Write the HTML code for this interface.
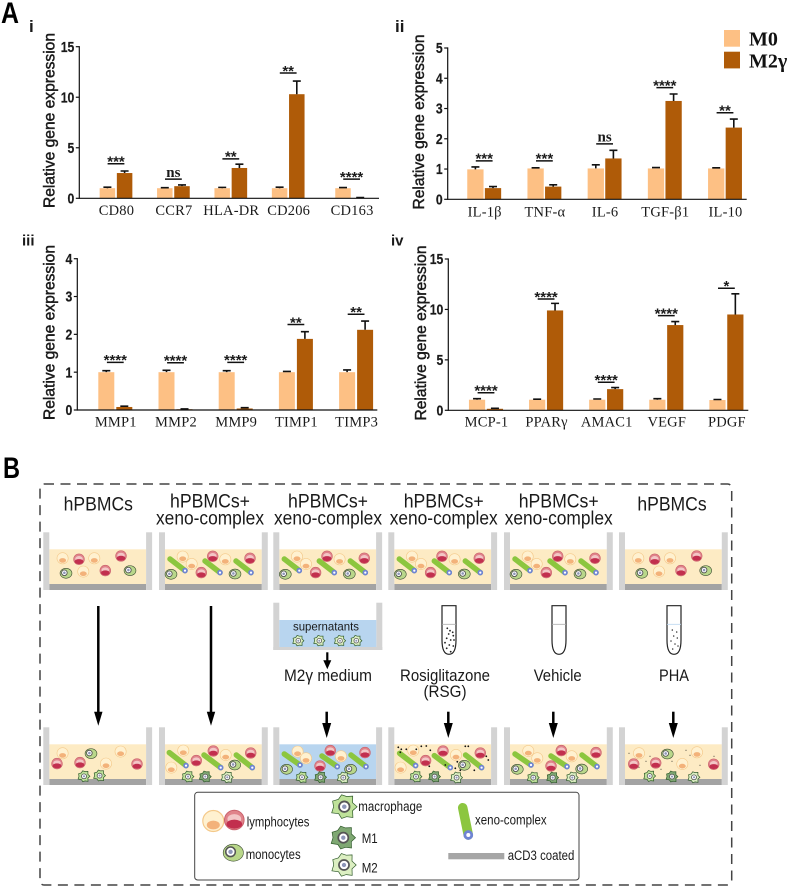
<!DOCTYPE html>
<html lang="en">
<head>
<meta charset="utf-8">
<title>Macrophage gene expression and experimental design</title>
<style>
  html, body { margin: 0; padding: 0; background: #fff; }
  svg { display: block; }
  text { font-family: "Liberation Sans", sans-serif; fill: #1a1a1a; }
  .serif { font-family: "Liberation Serif", serif; }
</style>
</head>
<body>
<svg id="figure" xmlns="http://www.w3.org/2000/svg" width="789" height="888" viewBox="0 0 789 888">
  <rect width="789" height="888" fill="#ffffff"/>

  <text x="1" y="23" font-size="30" font-weight="700" textLength="18" lengthAdjust="spacingAndGlyphs" style="fill:#000">A</text>
  <text x="3" y="478" font-size="30" font-weight="700" textLength="17" lengthAdjust="spacingAndGlyphs" style="fill:#000">B</text>

  <g>
    <rect x="724" y="30" width="16" height="16.7" fill="#FDC084"/>
    <text class="serif" x="749" y="45.7" font-size="20" font-weight="700" style="fill:#111">M0</text>
    <rect x="724" y="51.7" width="16" height="16.7" fill="#AF5B08"/>
    <text class="serif" x="749" y="67.3" font-size="20" font-weight="700" style="fill:#111">M2γ</text>
  </g>

  <g id="charts"></g>

  <rect x="40" y="484" width="691.7" height="401" rx="4" fill="none" stroke="#444" stroke-width="1.5" stroke-dasharray="10 6.5"/>

  <g font-size="19" text-anchor="middle" lengthAdjust="spacingAndGlyphs">
    <text x="98.3" y="510.7" textLength="69.3" lengthAdjust="spacingAndGlyphs">hPBMCs</text>
    <text x="210" y="507.3" textLength="80" lengthAdjust="spacingAndGlyphs">hPBMCs+</text>
    <text x="210" y="524.3" textLength="108" lengthAdjust="spacingAndGlyphs">xeno-complex</text>
    <text x="328" y="507.3" textLength="80" lengthAdjust="spacingAndGlyphs">hPBMCs+</text>
    <text x="328" y="524.3" textLength="108" lengthAdjust="spacingAndGlyphs">xeno-complex</text>
    <text x="443.7" y="507.3" textLength="80" lengthAdjust="spacingAndGlyphs">hPBMCs+</text>
    <text x="443.7" y="524.3" textLength="108" lengthAdjust="spacingAndGlyphs">xeno-complex</text>
    <text x="558.7" y="507.3" textLength="80" lengthAdjust="spacingAndGlyphs">hPBMCs+</text>
    <text x="558.7" y="524.3" textLength="108" lengthAdjust="spacingAndGlyphs">xeno-complex</text>
    <text x="672" y="510.7" textLength="69.3" lengthAdjust="spacingAndGlyphs">hPBMCs</text>
  </g>

  <g id="wells"></g>

  <g font-size="16.5" text-anchor="middle">
    <text x="328" y="681" textLength="88" lengthAdjust="spacingAndGlyphs">M2γ medium</text>
    <text x="445" y="681" textLength="90" lengthAdjust="spacingAndGlyphs">Rosiglitazone</text>
    <text x="445" y="697" textLength="43" lengthAdjust="spacingAndGlyphs">(RSG)</text>
    <text x="557.7" y="681" textLength="48" lengthAdjust="spacingAndGlyphs">Vehicle</text>
    <text x="674" y="681" textLength="30" lengthAdjust="spacingAndGlyphs">PHA</text>
  </g>

  <rect x="194.7" y="792.3" width="384.3" height="87.7" rx="3" fill="#fff" stroke="#444" stroke-width="1"/>
  <g font-size="13.5">
    <text x="246.7" y="826.7" textLength="62.7" lengthAdjust="spacingAndGlyphs">lymphocytes</text>
    <text x="245.7" y="859" textLength="55" lengthAdjust="spacingAndGlyphs">monocytes</text>
    <text x="358.3" y="811" textLength="64" lengthAdjust="spacingAndGlyphs">macrophage</text>
    <text x="361.7" y="843" textLength="16" lengthAdjust="spacingAndGlyphs">M1</text>
    <text x="361.7" y="872.3" textLength="16" lengthAdjust="spacingAndGlyphs">M2</text>
    <text x="475" y="824.3" textLength="71.7" lengthAdjust="spacingAndGlyphs">xeno-complex</text>
    <text x="507.7" y="860" textLength="66.7" lengthAdjust="spacingAndGlyphs">aCD3 coated</text>
  </g>
  <rect x="448.3" y="853" width="56" height="6.3" fill="#a6a6a6"/>
  <g id="key"></g>

<script>
/* ---------- chart data ---------- */
const panelICategories = ['CD80', 'CCR7', 'HLA-DR', 'CD206', 'CD163'];
const panelIM0 = [1, 1, 1, 1, 1];
const panelIM0Err = [0.1, 0.05, 0.08, 0.1, 0.06];
const panelIM2 = [2.5, 1.2, 3.0, 10.3, 0.03];
const panelIM2Err = [0.2, 0.12, 0.38, 1.3, 0.04];
const panelISig = ['***', 'ns', '**', '**', '****'];
const panelISigLevel = [3.42, 1.9, 3.9, 12.4, 1.9];
const panelITicks = [0, 5, 10, 15];

const panelIICategories = ['IL-1β', 'TNF-α', 'IL-6', 'TGF-β1', 'IL-10'];
const panelIIM0 = [0.99, 1.02, 1.02, 1.02, 1.02];
const panelIIM0Err = [0.08, 0.02, 0.12, 0.03, 0.02];
const panelIIM2 = [0.37, 0.42, 1.35, 3.25, 2.37];
const panelIIM2Err = [0.05, 0.06, 0.27, 0.23, 0.28];
const panelIISig = ['***', '***', 'ns', '****', '**'];
const panelIISigLevel = [1.27, 1.27, 1.83, 3.69, 2.86];
const panelIITicks = [0, 1, 2, 3, 4, 5];

const panelIIICategories = ['MMP1', 'MMP2', 'MMP9', 'TIMP1', 'TIMP3'];
const panelIIIM0 = [1, 1, 1, 1, 1];
const panelIIIM0Err = [0.04, 0.05, 0.04, 0.02, 0.06];
const panelIIIM2 = [0.08, 0.02, 0.04, 1.88, 2.12];
const panelIIIM2Err = [0.02, 0.01, 0.02, 0.19, 0.23];
const panelIIISig = ['****', '****', '****', '**', '**'];
const panelIIISigLevel = [1.26, 1.25, 1.26, 2.26, 2.53];
const panelIIITicks = [0, 1, 2, 3, 4];

const panelIVCategories = ['MCP-1', 'PPARγ', 'AMAC1', 'VEGF', 'PDGF'];
const panelIVM0 = [1.05, 1.05, 1.05, 1.05, 1.02];
const panelIVM0Err = [0.1, 0.05, 0.07, 0.1, 0.05];
const panelIVM2 = [0.15, 9.9, 2.1, 8.45, 9.5];
const panelIVM2Err = [0.05, 0.7, 0.15, 0.35, 2.05];
const panelIVSig = ['****', '****', '****', '****', '*'];
const panelIVSigLevel = [1.74, 11.03, 2.78, 9.38, 12.1];
const panelIVTicks = [0, 5, 10, 15];

const NS = 'http://www.w3.org/2000/svg';
function el(tag, attrs, parent) {
  const n = document.createElementNS(NS, tag);
  for (const k in attrs) n.setAttribute(k, attrs[k]);
  parent.appendChild(n);
  return n;
}

const panels = [
  { id: 'i', label: 'i', labelX: 29, labelY: 32, labelSize: 17,
    cats: panelICategories, m0: panelIM0, m0e: panelIM0Err, m2: panelIM2, m2e: panelIM2Err,
    sig: panelISig, sigLevel: panelISigLevel, ticks: panelITicks,
    ax: 79.3, axEnd: 379, y0: 198.3, yTop: 46.7, c0: 116, step: 57.4, lastShift: 6, w: 15.5, gap: 1.7,
    titleX: 54.5, titleY: 120.5, catY: 215 },
  { id: 'ii', label: 'ii', labelX: 395, labelY: 32, labelSize: 17,
    cats: panelIICategories, m0: panelIIM0, m0e: panelIIM0Err, m2: panelIIM2, m2e: panelIIM2Err,
    sig: panelIISig, sigLevel: panelIISigLevel, ticks: panelIITicks,
    ax: 447.7, axEnd: 746.7, y0: 199.3, yTop: 48, c0: 484.2, step: 60.2, lastShift: 0, w: 16.3, gap: 1.3,
    titleX: 424, titleY: 122, catY: 216.5 },
  { id: 'iii', label: 'iii', labelX: 22, labelY: 245.5, labelSize: 15,
    cats: panelIIICategories, m0: panelIIIM0, m0e: panelIIIM0Err, m2: panelIIIM2, m2e: panelIIIM2Err,
    sig: panelIIISig, sigLevel: panelIIISigLevel, ticks: panelIIITicks,
    ax: 77.3, axEnd: 377.3, y0: 410, yTop: 258.7, c0: 115.3, step: 60.2, lastShift: 0, w: 16, gap: 2,
    titleX: 54.7, titleY: 332.5, catY: 426.5 },
  { id: 'iv', label: 'iv', labelX: 391, labelY: 245.5, labelSize: 15,
    cats: panelIVCategories, m0: panelIVM0, m0e: panelIVM0Err, m2: panelIVM2, m2e: panelIVM2Err,
    sig: panelIVSig, sigLevel: panelIVSigLevel, ticks: panelIVTicks,
    ax: 448.3, axEnd: 748.3, y0: 410.3, yTop: 259, c0: 486, step: 60.1, lastShift: 0, w: 16.2, gap: 1.7,
    titleX: 426, titleY: 333, catY: 426.5 }
];

function drawPanel(p) {
  const root = document.getElementById('charts');
  const g = el('g', {}, root);
  
  

  const maxV = p.ticks[p.ticks.length - 1];
  const yScale = v => p.y0 - (v / maxV) * (p.y0 - p.yTop);
  const xScale = i => p.c0 + i * p.step + (i === p.cats.length - 1 ? p.lastShift : 0);

  const tag = el('text', { x: p.labelX, y: p.labelY, 'font-size': p.labelSize, 'font-weight': 700 }, g);
  tag.textContent = p.label;
  
  

  const title = el('text', {
    transform: 'translate(' + p.titleX + ',' + p.titleY + ') rotate(-90)',
    'text-anchor': 'middle', 'font-size': 15.5, textLength: 175, lengthAdjust: 'spacingAndGlyphs',
    stroke: '#1a1a1a', 'stroke-width': 0.45
  }, g);
  title.textContent = 'Relative gene expression';
  
  

  p.cats.forEach((c, i) => {
    const cx = xScale(i);
    const bar0 = el('rect', { x: cx - p.gap / 2 - p.w, y: yScale(p.m0[i]), width: p.w, height: p.y0 - yScale(p.m0[i]), fill: '#FDC084' }, g);
    
    

    const bar2 = el('rect', { x: cx + p.gap / 2, y: yScale(p.m2[i]), width: p.w, height: p.y0 - yScale(p.m2[i]), fill: '#AF5B08' }, g);
    
    

    const x0 = cx - p.gap / 2 - p.w / 2, top0 = yScale(p.m0[i] + p.m0e[i]);
    const err0 = el('path', { d: 'M' + x0 + ' ' + yScale(p.m0[i]) + 'V' + top0 + 'M' + (x0 - 4) + ' ' + top0 + 'H' + (x0 + 4), stroke: '#111', 'stroke-width': 1.6, fill: 'none' }, g);
    
    

    const x2 = cx + p.gap / 2 + p.w / 2, top2 = yScale(p.m2[i] + p.m2e[i]);
    const err2 = el('path', { d: 'M' + x2 + ' ' + yScale(p.m2[i]) + 'V' + top2 + 'M' + (x2 - 4) + ' ' + top2 + 'H' + (x2 + 4), stroke: '#111', 'stroke-width': 1.6, fill: 'none' }, g);
    
    

    const sy = yScale(p.sigLevel[i]);
    const sl = el('line', { x1: cx - 8.4, x2: cx + 8.4, y1: sy, y2: sy, stroke: '#111', 'stroke-width': 1.5 }, g);
    
    

    const isNs = p.sig[i] === 'ns';
    const st = el('text', {
      x: cx, y: isNs ? sy - 2.3 : sy + 2.8, 'text-anchor': 'middle',
      'font-size': isNs ? 15 : 15, 'font-weight': 700, class: isNs ? 'serif' : ''
    }, g);
    st.textContent = p.sig[i];
    
    

    const lab = el('text', { x: cx + 0.5, y: p.catY, 'text-anchor': 'middle', 'font-size': 14.5, class: 'serif', 'letter-spacing': 0.2 }, g);
    lab.textContent = c;
    
    
  });

  const yAxis = el('line', { x1: p.ax, x2: p.ax, y1: p.yTop - 0.6, y2: p.y0 + 0.6, stroke: '#111', 'stroke-width': 1.2 }, g);
  
  

  const xAxis = el('line', { x1: p.ax, x2: p.axEnd, y1: p.y0, y2: p.y0, stroke: '#111', 'stroke-width': 1.2 }, g);
  
  

  p.ticks.forEach(t => {
    const ty = yScale(t);
    const tm = el('line', { x1: p.ax - 3.5, x2: p.ax, y1: ty, y2: ty, stroke: '#111', 'stroke-width': 1.2 }, g);
    
    

    const s = String(t);
    const tl = el('text', {
      x: p.ax - 5, y: ty + 5.2, 'text-anchor': 'end', 'font-size': 14.5, 'font-weight': 700,
      textLength: s.length * 6.8, lengthAdjust: 'spacingAndGlyphs', stroke: '#1a1a1a', 'stroke-width': 0.2
    }, g);
    tl.textContent = s;
    
    
  });
}
panels.forEach(drawPanel);

/* ---------- schematic ---------- */
const wellXs = [43.3, 159, 273.3, 388.3, 504, 619];
const wellW = 108.8;
const topRowY = 532.3;
const bottomRowY = 727.3;

const noXeno = { L: [[19.3,26],[51,26],[40,39.3]], R: [[35.7,27],[77.7,23.7],[62,38.3]], M: [[22.7,41],[86.7,38.3]], X: [], G: [] };
const withXeno = { L: [[23.7,24.3],[32.7,31.7],[66.3,27]], R: [[53.7,24],[42.3,40.3],[91,26]], M: [[12,42],[76,41.7]],
  X: [[11,26.7,26,38.3],[46,28.7,61,40.3],[77,28.7,92,40.3]], G: [] };

const topScenes = [noXeno, withXeno, withXeno, withXeno, withXeno, noXeno];

const bottomScenes = [
  { L: [[19.3,26],[77.3,24.3],[62.7,36.3]], R: [[13.7,36.3],[36.7,35.3],[93.7,36.7]], M: [[47.7,26.3]], X: [],
    G: [[40.7,49,'g'],[56.3,48.3,'g']] },
  { L: [[24.3,23.3],[66.7,27.7],[12.3,40.3]], R: [[54.3,23.7],[37.3,33.3],[91.7,25.7]], M: [[75.7,37.7]],
    X: [[10.3,25.3,27,38.3],[45,27.7,61.7,40.3],[77.3,27.7,93.3,40.3]], G: [[29,49.3,'g'],[46.3,49.3,'d'],[68.3,50,'w']] },
  { fill: '#B8D5EF', L: [[24.3,24.3],[32.7,31],[67.7,29]], R: [[57,23.3],[46.7,38.7],[91.7,25.3]], M: [[13.3,42],[77.3,42]],
    X: [[11,26.7,26.7,37.7],[48.7,28.7,64,39.3],[77.7,27.7,92.7,39.3]], G: [[28.7,50,'g'],[47.3,50,'d'],[70,50.3,'w']] },
  { L: [[25,23.3],[67.7,27.7],[12.3,40.3]], R: [[54.7,23.7],[37.3,33.3],[92,25.7]], M: [[76,38]],
    X: [[11.3,26,27.3,38.3],[46,28.3,62,40.3],[77.3,27.7,93.3,40.3]], G: [[27.7,49.3,'g'],[46.3,49.3,'d'],[68.3,50.3,'w']],
    specks: [[10,20],[13,22],[18,22],[33,19],[38,18.7],[42,23],[77,19],[80,19],[69,34.5],[67,41],[41,39],[86,43],[98,29],[100,32.7],[12,25],[57,37.7],[72,43],[28,22]], speckR: 0.9 },
  { L: [[24.3,23.7],[33.3,31],[67.7,29]], R: [[57.3,23.3],[47,38.7],[92,25.3]], M: [[13.3,42],[77.7,41.7]],
    X: [[11,26.7,27,37.7],[47,28.7,63,39.3],[78,27.7,93,39.3]], G: [[29.3,50.3,'g'],[48.7,50.3,'d'],[68.3,50.3,'w']] },
  { L: [[20,26],[78,25],[63.3,36.7]], R: [[14.7,36.7],[36.7,35.7],[94.7,37]], M: [[48.3,26.7]], X: [],
    G: [[30.7,48.7,'g'],[53,49.3,'d'],[75,50,'w']],
    specks: [[10,26],[31,29],[27,34],[53,34],[67,23],[71,28],[81,38],[95,29],[20,40],[42,42]], speckR: 0.5 }
];

const macRadii = [1.02, 0.74, 1.1, 0.82, 0.96, 0.72, 1.12, 0.86, 1.04, 0.76, 0.98, 0.84, 1.08, 0.74];

function lymphLight(par, x, y, r) {
  const g = el('g', {}, par);
  el('circle', { cx: x, cy: y, r: r, fill: '#FFF1D0', stroke: '#F4C98A', 'stroke-width': r / 9 }, g);
  el('ellipse', { cx: x, cy: y + r * 0.38, rx: r * 0.62, ry: r * 0.42, fill: '#F3B27A' }, g);
  return g;
}
function lymphRed(par, x, y, r) {
  const g = el('g', {}, par);
  el('circle', { cx: x, cy: y, r: r, fill: '#E0838A', stroke: '#C9606A', 'stroke-width': r / 10 }, g);
  el('ellipse', { cx: x, cy: y - r * 0.1, rx: r * 0.7, ry: r * 0.5, fill: '#F3C6C6' }, g);
  el('ellipse', { cx: x, cy: y + r * 0.42, rx: r * 0.8, ry: r * 0.46, fill: '#C22F4E' }, g);
  return g;
}
function mono(par, x, y, r) {
  const g = el('g', {}, par);
  el('ellipse', { cx: x, cy: y, rx: r * 1.1, ry: r * 0.92, fill: '#B9D78A', stroke: '#3a4a30', 'stroke-width': 0.6 }, g);
  el('circle', { cx: x - r * 0.3, cy: y - r * 0.1, r: r * 0.52, fill: '#fff', stroke: '#555', 'stroke-width': r / 6 }, g);
  el('circle', { cx: x - r * 0.3, cy: y - r * 0.1, r: r * 0.24, fill: '#8d96b8' }, g);
  return g;
}
function mac(par, x, y, r, type) {
  const g = el('g', {}, par);
  const pts = macRadii.map((m, i) => {
    const a = i / macRadii.length * Math.PI * 2;
    return (x + Math.cos(a) * r * m).toFixed(1) + ',' + (y + Math.sin(a) * r * m).toFixed(1);
  }).join(' ');
  const fill = type === 'd' ? '#7FA873' : type === 'w' ? '#DCEFC2' : '#BFE29A';
  el('polygon', { points: pts, fill: fill, stroke: '#2f5a2a', 'stroke-width': 0.7 }, g);
  el('circle', { cx: x, cy: y, r: r * 0.42, fill: '#fff', stroke: '#555', 'stroke-width': r / 7 }, g);
  el('circle', { cx: x, cy: y, r: r * 0.18, fill: '#8d96b8' }, g);
  return g;
}
function xeno(par, x1, y1, x2, y2, w) {
  const g = el('g', {}, par);
  el('line', { x1: x1, y1: y1, x2: x2, y2: y2, stroke: '#8CC63F', 'stroke-width': w, 'stroke-linecap': 'round' }, g);
  el('circle', { cx: x2, cy: y2, r: w * 0.36, fill: '#fff', stroke: '#6F84D4', 'stroke-width': w * 0.3 }, g);
  return g;
}

function drawWell(root, x, y, scene, rowName, idx) {
  const g = el('g', {}, root);
  
  

  el('rect', { x: x + 6, y: y + 17, width: wellW - 12, height: 34.7, fill: scene.fill || '#FDEBC4' }, g);
  el('rect', { x: x + 6, y: y + 51.7, width: wellW - 12, height: 6, fill: '#A3A3A3' }, g);
  el('rect', { x: x, y: y, width: 6, height: 57.7, fill: '#D3D3D3' }, g);
  el('rect', { x: x + wellW - 6, y: y, width: 6, height: 57.7, fill: '#D3D3D3' }, g);

  scene.L.forEach(c => {
    const n = lymphLight(g, x + c[0], y + c[1], 5.6);
    
    
  });
  scene.X.forEach(c => {
    const n = xeno(g, x + c[0], y + c[1], x + c[2], y + c[3], 5.5);
    
    
  });
  scene.R.forEach(c => {
    const n = lymphRed(g, x + c[0], y + c[1], 5.4);
    
    
  });
  scene.M.forEach(c => {
    const n = mono(g, x + c[0], y + c[1], 5.4);
    
    
  });
  scene.G.forEach(c => {
    const n = mac(g, x + c[0], y + c[1], 5.8, c[2]);
    
    
  });
  (scene.specks || []).forEach(c => {
    const n = el('circle', { cx: x + c[0], cy: y + c[1], r: scene.speckR, fill: '#111' }, g);
    
    
  });
}

const wellsRoot = document.getElementById('wells');
wellXs.forEach((x, i) => {
  drawWell(wellsRoot, x, topRowY, topScenes[i], 'top', i + 1);
  drawWell(wellsRoot, x, bottomRowY, bottomScenes[i], 'bottom', i + 1);
});

/* arrows */
function arrow(root, x, y1, y2, hw, hl, sw) {
  const g = el('g', {}, root);
  el('line', { x1: x, x2: x, y1: y1, y2: y2 - hl + 1, stroke: '#000', 'stroke-width': sw }, g);
  el('polygon', { points: (x - hw) + ',' + (y2 - hl) + ' ' + (x + hw) + ',' + (y2 - hl) + ' ' + x + ',' + y2, fill: '#000' }, g);
  return g;
}
const longArrows = [98.3, 211];
longArrows.forEach(x => {
  const a = arrow(wellsRoot, x, 606, 725.7, 4.2, 14, 2.5);
  
  
});
const shortArrows = [326.7, 448.3, 553.3, 673.3];
shortArrows.forEach(x => {
  const a = arrow(wellsRoot, x, 711.7, 738, 4.5, 15, 2.5);
  
  
});
const supArrow = arrow(wellsRoot, 327.3, 652.3, 669.3, 4, 9, 2.2);



/* supernatants well */
const sup = el('g', {}, wellsRoot);


el('rect', { x: 273.3, y: 602.7, width: 6, height: 47.3, fill: '#D3D3D3' }, sup);
el('rect', { x: 376.3, y: 602.7, width: 6, height: 47.3, fill: '#D3D3D3' }, sup);
el('rect', { x: 273.3, y: 647, width: 109, height: 3, fill: '#D3D3D3' }, sup);
el('rect', { x: 279.3, y: 620, width: 97, height: 27, fill: '#B8D5EF' }, sup);
const supText = el('text', { x: 326, y: 630.7, 'text-anchor': 'middle', 'font-size': 12, textLength: 66, lengthAdjust: 'spacingAndGlyphs' }, sup);
supText.textContent = 'supernatants';


const supCells = [298.3, 319.3, 340, 356.3];
supCells.forEach(x => {
  const n = mac(sup, x, 640.7, 5.5, 'w');
  
  
});

/* tubes */
function tube(root, cx, lineCol, stroke) {
  const g = el('g', {}, root);
  el('path', { d: 'M' + (cx - 7) + ' 605.7V640Q' + (cx - 7) + ' 654.3 ' + cx + ' 654.3Q' + (cx + 7) + ' 654.3 ' + (cx + 7) + ' 640V605.7Z', fill: '#fff', stroke: stroke, 'stroke-width': 1.2 }, g);
  el('line', { x1: cx - 7, x2: cx + 7, y1: 624.3, y2: 624.3, stroke: lineCol, 'stroke-width': 0.8 }, g);
  return g;
}
const rsgDots = [[-1.7,628.3],[1,630.7],[3.7,632.3],[-0.3,634],[4.3,635.7],[-2.3,638.3],[1.7,640],[5,640],[-4,642.7],[0.3,645],[4.3,646],[-2.3,648.3],[1.7,651.7]];
const phaDots = [[-1.7,630],[2.7,632],[-0.3,636],[3.3,638],[-3,641],[1,644],[4,646],[-1.3,649]];

const tubeRsg = tube(wellsRoot, 449, '#aaa', '#222');


rsgDots.forEach(d => {
  el('circle', { cx: 449 + d[0], cy: d[1], r: 0.9, fill: '#222' }, tubeRsg);
});
const tubeVeh = tube(wellsRoot, 559, '#aaa', '#222');


const tubePha = tube(wellsRoot, 674, '#B8D5EF', '#222');


phaDots.forEach(d => {
  el('circle', { cx: 674 + d[0], cy: d[1], r: 0.75, fill: '#333' }, tubePha);
});

/* key icons */
const keyRoot = document.getElementById('key');
const k1 = lymphLight(keyRoot, 213.3, 821, 10.5);


const k2 = lymphRed(keyRoot, 234.3, 820, 9.8);


const k3 = mono(keyRoot, 233.3, 852.7, 9.2);


const k4 = mac(keyRoot, 344.3, 806.7, 12.5, 'g');


const k5 = mac(keyRoot, 343.3, 837.7, 12, 'd');


const k6 = mac(keyRoot, 344, 865, 12, 'w');


const k7 = xeno(keyRoot, 462.7, 807.7, 468.3, 835, 9.5);


</script>
</svg>
</body>
</html>
